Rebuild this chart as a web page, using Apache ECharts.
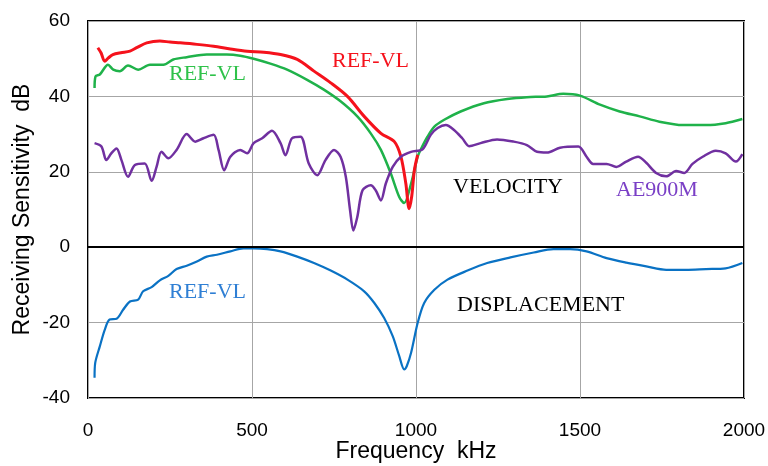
<!DOCTYPE html>
<html>
<head>
<meta charset="utf-8">
<script src="https://cdn.jsdelivr.net/npm/echarts@6/dist/echarts.min.js"></script>
<style>
  html, body { margin: 0; padding: 0; background: #fff; }
  #chart { width: 768px; height: 466px; }
</style>
</head>
<body>
<div id="chart"></div>
<script>
// velocity sensitivity, REF-VL (red)
const refRedFreq = [30, 40, 51, 62, 76, 100, 128, 150, 179, 219, 250, 281, 332, 383, 434, 485, 536, 587, 638, 689, 740, 791, 842, 893, 934, 954, 969, 979, 987, 995, 1005]
const refRedDb   = [52.9, 51.5, 49.3, 50.2, 51.1, 51.6, 52, 53, 54.2, 54.7, 54.4, 54.2, 53.8, 53.3, 52.6, 52, 51.7, 51.1, 49.8, 46.7, 43.6, 40, 34.7, 30.2, 28, 24, 16.9, 10.2, 13.5, 20.4, 24.5]

// velocity sensitivity, REF-VL (green)
const refGreenFreq = [20, 23, 36, 61, 77, 97, 122, 153, 189, 230, 260, 301, 362, 423, 464, 505, 556, 607, 668, 719, 770, 821, 862, 893, 923, 949, 964, 985, 1005, 1015, 1035, 1056, 1086, 1136, 1207, 1278, 1338, 1399, 1449, 1500, 1561, 1621, 1682, 1742, 1813, 1884, 1944, 1995]
const refGreenDb   = [42.2, 45.3, 45.8, 48.4, 47.1, 46.7, 48.2, 47.1, 48.4, 48.4, 49.8, 50.4, 51.1, 51.1, 50.8, 50, 48.7, 47.1, 44.4, 41.8, 38.7, 34.7, 30.2, 25.8, 19.6, 13.3, 11.7, 16.9, 24, 26, 29.3, 32, 33.8, 36, 38.2, 39.3, 39.8, 40, 40.7, 40.2, 37.8, 36, 34.7, 33.3, 32.4, 32.4, 32.9, 34]

// velocity sensitivity, AE900M (purple)
const aeFreq = [20, 41, 56, 71, 87, 102, 122, 143, 173, 194, 209, 224, 245, 270, 301, 327, 352, 383, 398, 415, 434, 464, 485, 505, 531, 561, 587, 602, 622, 648, 673, 699, 724, 750, 770, 786, 799, 809, 821, 837, 862, 877, 893, 908, 929, 954, 985, 1020, 1045, 1066, 1091, 1116, 1141, 1162, 1197, 1247, 1298, 1338, 1369, 1399, 1439, 1495, 1520, 1540, 1581, 1611, 1641, 1677, 1702, 1732, 1763, 1793, 1818, 1843, 1874, 1914, 1944, 1975, 1995]
const aeDb   = [27.6, 26.7, 23.1, 24.9, 26.2, 23.1, 18.7, 21.8, 22.2, 17.6, 21.3, 25.3, 23.6, 25.8, 30, 28, 28.9, 29.8, 25.8, 20.4, 24, 25.8, 24.9, 27.6, 28.9, 30.9, 27.6, 24.4, 28.9, 29.3, 22.2, 19.1, 23.1, 25.8, 24, 18.7, 9.8, 4.4, 8, 15.1, 16.4, 15.1, 12.4, 16.9, 21.3, 24, 25.3, 26, 29.8, 31.6, 32.4, 31.1, 28.9, 26.8, 27.6, 28.6, 28, 27.1, 25.3, 25.1, 26.4, 26.7, 24, 22.1, 22.1, 21.3, 22.7, 24, 22.4, 19.7, 18.8, 20.2, 19.7, 22.1, 24, 25.6, 24.9, 22.7, 24.7]

// displacement sensitivity, REF-VL (blue)
const dispFreq = [20, 22, 36, 51, 66, 87, 107, 128, 153, 168, 194, 219, 245, 270, 301, 332, 362, 393, 434, 474, 505, 546, 587, 638, 689, 740, 791, 842, 873, 903, 929, 949, 964, 972, 985, 1005, 1025, 1056, 1096, 1157, 1217, 1288, 1359, 1419, 1470, 1520, 1581, 1641, 1702, 1763, 1823, 1884, 1944, 1995]
const dispDb   = [-34.6, -30.7, -26.3, -21.9, -19.2, -19, -16.6, -14.4, -13.9, -11.7, -10.6, -8.8, -7.6, -5.8, -4.9, -3.8, -2.5, -2, -1.1, -0.3, -0.3, -0.5, -1.1, -2.5, -4.2, -6.2, -8.6, -11.7, -14.8, -18.8, -23.6, -28.9, -32.4, -31.5, -28, -20.1, -14.8, -11.3, -8.6, -6.2, -4.2, -2.7, -1.4, -0.5, -0.5, -1.1, -2.9, -4.1, -5.1, -6, -6, -5.8, -5.6, -4.2]

const xTicks = [0, 2000, 500]   // min, max, step
const yTicks = [-40, 60, 20]

const pairs = (xs, ys) => xs.map((x, i) => [x, ys[i]])

const chart = echarts.init(document.getElementById('chart'))

const serifText = (text, x, y, color) => ({
  type: 'text', left: x, top: y,
  style: { text: text, fill: color, font: '22px "Liberation Serif", serif' }
})

const lineSeries = (name, data, color, width) => ({
  name: name,
  type: 'line',
  data: data,
  showSymbol: false,
  smooth: 0.3,
  lineStyle: { color: color, width: width },
  silent: true,
  z: 3
})

const option = {
  animation: false,
  backgroundColor: '#fff',
  grid: {
    left: 88, right: 24, top: 21, bottom: 68,
    containLabel: false,
    outerBoundsMode: 'none',
    show: true, borderColor: '#000', borderWidth: 2, backgroundColor: 'transparent'
  },
  xAxis: {
    type: 'value',
    min: xTicks[0], max: xTicks[1], interval: xTicks[2],
    name: 'Frequency  kHz',
    nameLocation: 'middle',
    nameGap: 42,
    nameMoveOverlap: false,
    nameTextStyle: { color: '#000', fontSize: 23, fontFamily: 'Liberation Sans, Arial, sans-serif' },
    axisLine: { show: false },
    axisTick: { show: false },
    axisLabel: { color: '#000', fontSize: 19, margin: 23, formatter: v => String(v), fontFamily: 'Liberation Sans, Arial, sans-serif' },
    splitLine: { lineStyle: { color: '#a6a6a6', width: 1 } }
  },
  yAxis: {
    type: 'value',
    min: yTicks[0], max: yTicks[1], interval: yTicks[2],
    name: 'Receiving Sensitivity  dB',
    nameLocation: 'middle',
    nameGap: 54,
    nameMoveOverlap: false,
    nameTextStyle: { color: '#000', fontSize: 23, fontFamily: 'Liberation Sans, Arial, sans-serif' },
    axisLine: { show: false },
    axisTick: { show: false },
    axisLabel: { color: '#000', fontSize: 19, margin: 18, fontFamily: 'Liberation Sans, Arial, sans-serif' },
    splitLine: { lineStyle: { color: '#a6a6a6', width: 1 } }
  },
  series: [
    lineSeries('REF-VL green', pairs(refGreenFreq, refGreenDb), '#1fb24a', 2.5),
    lineSeries('REF-VL red', pairs(refRedFreq, refRedDb), '#f5121c', 3),
    lineSeries('AE900M', pairs(aeFreq, aeDb), '#7030a0', 2.5),
    Object.assign(lineSeries('REF-VL blue', pairs(dispFreq, dispDb), '#0a72c4', 2.2), {
      markLine: {
        silent: true,
        symbol: 'none',
        label: { show: false },
        lineStyle: { color: '#000', width: 2, type: 'solid' },
        data: [{ yAxis: 0 }]
      }
    })
  ],
  graphic: [
    serifText('REF-VL', 169, 63, '#2fc24a'),
    serifText('REF-VL', 332, 50, '#f5121c'),
    serifText('VELOCITY', 453, 176, '#000'),
    serifText('AE900M', 616, 179, '#7a3fc6'),
    serifText('REF-VL', 169, 281, '#2f7fd4'),
    serifText('DISPLACEMENT', 457, 294, '#000')
  ]
}

chart.setOption(option)
</script>
</body>
</html>
